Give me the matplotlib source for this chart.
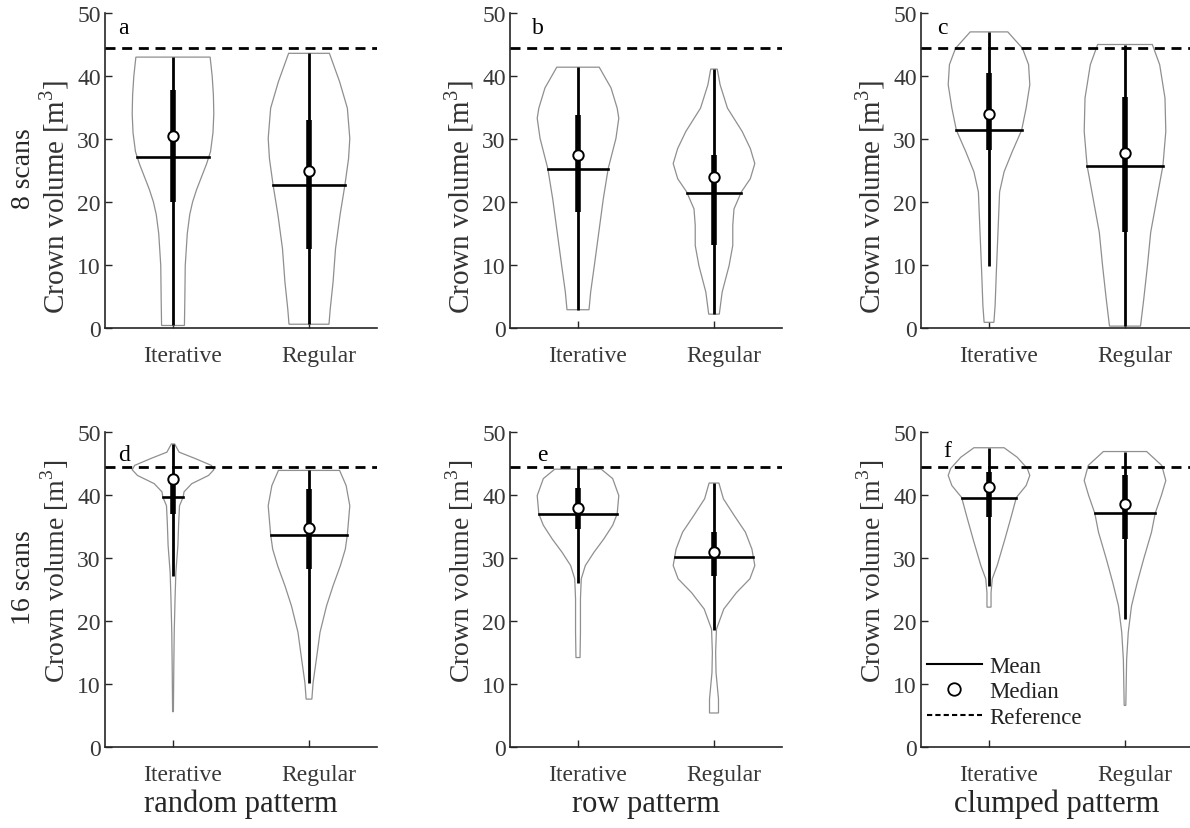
import numpy as np
import matplotlib
matplotlib.use("Agg")
import matplotlib.pyplot as plt
from matplotlib.lines import Line2D
from matplotlib.transforms import ScaledTranslation

plt.rcParams['font.family'] = ['Liberation Serif', 'DejaVu Serif']
plt.rcParams['mathtext.fontset'] = 'custom'
plt.rcParams['mathtext.rm'] = 'Liberation Serif'

# ---- data ----
methods = ['Iterative', 'Regular']
patterns = ['random patterm', 'row patterm', 'clumped patterm']
scans = ['8 scans', '16 scans']
letters = ['a', 'b', 'c', 'd', 'e', 'f']
reference_volume = 44.5

# violin profiles: (volume, relative half width)
a_iterative = [(0.4, .28), (4.6, .29), (9.9, .30), (15, .35), (18, .41), (20, .48), (22, .58),
               (24, .70), (26, .82), (28, .92), (31, .98), (34, 1.0), (37, .99), (40, .96), (43.0, .91)]
a_regular = [(0.6, .49), (3.0, .52), (7.3, .59), (12.6, .65), (17.9, .76), (22.7, .88), (26.9, .97),
             (30.1, 1.0), (34.9, .94), (39.1, .75), (43.6, .50)]
b_iterative = [(2.9, .27), (5.7, .31), (9.9, .40), (15.2, .51), (20.5, .62), (25.3, .74), (30.1, .93),
               (33.3, 1.0), (34.9, .96), (38.1, .81), (41.4, .52)]
b_regular = [(2.2, .13), (5.7, .20), (9.9, .37), (13.1, .46), (16.3, .46), (18.9, .49), (21.6, .67),
             (23.7, .89), (26.1, 1.0), (28.5, .89), (31.2, .69), (34.9, .33), (38.6, .15), (41.1, .08)]
c_iterative = [(0.9, .12), (3.6, .15), (8.9, .18), (15.2, .22), (21.6, .26), (24.8, .37), (28.0, .57),
               (31.4, .80), (34.9, .91), (38.6, 1.0), (41.8, .97), (44.4, .82), (47.0, .46)]
c_regular = [(0.3, .38), (4.6, .46), (9.9, .55), (15.2, .63), (20.5, .78), (25.8, .93), (31.2, 1.0),
             (36.5, .98), (41.8, .85), (45.0, .67)]
d_iterative = [(5.6, .01), (12.9, .02), (18.2, .03), (23.5, .05), (27.7, .07), (32.0, .12), (35.7, .14),
               (38.3, .16), (39.7, .25), (40.5, .27), (41.8, .46), (43.1, .87), (44.0, 1.0), (44.7, .94),
               (45.8, .54), (46.8, .15), (48.1, .04)]
d_regular = [(7.6, .07), (10.2, .10), (13.9, .18), (18.2, .27), (22.4, .43), (25.6, .59), (28.8, .77),
             (31.4, .89), (33.7, .94), (38.3, 1.0), (41.5, .91), (43.9, .75)]
e_iterative = [(14.2, .05), (18.2, .06), (23.5, .06), (26.7, .08), (28.8, .18), (30.9, .39), (33.0, .63),
               (35.2, .85), (37.0, .96), (39.9, 1.0), (42.6, .85), (44.1, .57)]
e_regular = [(5.4, .11), (7.6, .11), (9.7, .08), (11.8, .05), (15.0, .04), (18.7, .06), (21.9, .24),
             (24.5, .55), (26.7, .88), (28.8, 1.0), (31.4, .93), (34.1, .77), (36.7, .50), (39.4, .23),
             (41.9, .12)]
f_iterative = [(22.2, .05), (24.5, .05), (26.7, .08), (28.8, .20), (33.0, .39), (36.7, .55), (39.6, .67),
               (41.5, .91), (43.1, 1.0), (44.2, .94), (46.0, .69), (47.5, .37)]
f_regular = [(6.6, .02), (13.9, .04), (18.2, .08), (22.4, .16), (26.1, .30), (29.9, .46), (34.1, .65),
             (37.1, .74), (39.9, .89), (42.3, 1.0), (44.7, .90), (46.9, .53)]

profiles = [[a_iterative, a_regular], [b_iterative, b_regular], [c_iterative, c_regular],
            [d_iterative, d_regular], [e_iterative, e_regular], [f_iterative, f_regular]]

# summary statistics per panel, [Iterative, Regular]
whisker_low = [[0.4, 0.6], [2.9, 2.2], [9.9, 0.3], [27.2, 10.2], [26.1, 18.5], [25.6, 20.3]]
whisker_high = [[43.0, 43.6], [41.4, 41.1], [47.0, 45.0], [48.1, 43.9], [44.3, 41.9], [47.5, 46.9]]
q1 = [[20.0, 12.6], [18.4, 13.1], [28.2, 15.2], [37.0, 28.3], [34.6, 27.2], [36.5, 33.0]]
q3 = [[37.8, 33.0], [33.8, 27.4], [40.4, 36.6], [42.0, 41.0], [41.1, 34.1], [43.6, 43.1]]
medians = [[30.4, 24.9], [27.5, 23.9], [34.0, 27.7], [42.6, 34.8], [37.9, 31.0], [41.3, 38.6]]
means = [[27.2, 22.7], [25.3, 21.5], [31.4, 25.7], [39.7, 33.7], [37.0, 30.1], [39.6, 37.1]]

# ---- layout ----
W, H = 1190, 829
fig = plt.figure(figsize=(W / 100, H / 100), dpi=100)
col_left = [105, 510, 921]
row_bottom = [329, 748]
ax_w, ax_h = 272, 315
letter_pos = [(0.05, 0.955), (0.08, 0.955), (0.06, 0.955), (0.05, 0.93), (0.10, 0.93), (0.08, 0.94)]

txt = '#262626'
half_max = 0.3

for i in range(6):
    r, c = divmod(i, 3)
    ax = fig.add_axes([col_left[c] / W, 1 - row_bottom[r] / H, ax_w / W, ax_h / H])
    for j in range(2):
        pos = j + 1
        prof = np.array(profiles[i][j])
        yy = prof[:, 0]
        ww = prof[:, 1] * half_max
        ax.fill(np.concatenate([pos - ww, (pos + ww)[::-1]]), np.concatenate([yy, yy[::-1]]),
                facecolor='white', edgecolor='#8f8f8f', lw=0.9, zorder=2)
        ax.plot([pos, pos], [whisker_low[i][j], whisker_high[i][j]], color='black', lw=2.0,
                solid_capstyle='butt', zorder=3)
        ax.plot([pos, pos], [q1[i][j], q3[i][j]], color='black', lw=4.0, solid_capstyle='butt', zorder=3)
        mw = np.interp(means[i][j], yy, ww)
        ax.plot([pos - mw, pos + mw], [means[i][j], means[i][j]], color='black', lw=1.9, zorder=4)
        ax.plot(pos, medians[i][j], 'o', ms=7.5, mfc='white', mec='black', mew=1.4, zorder=5)
    ax.axhline(reference_volume, color='black', lw=2.0, ls=(0, (3.6, 2.4)), zorder=6)

    ax.set_xlim(0.5, 2.5)
    ax.set_ylim(0, 50)
    ax.set_xticks([1, 2])
    ax.set_xticklabels(methods)
    ax.set_yticks(range(0, 51, 10))
    for s in ['top', 'right']:
        ax.spines[s].set_visible(False)
    for s in ['left', 'bottom']:
        ax.spines[s].set_color('#262626')
        ax.spines[s].set_linewidth(1.2)
    ax.tick_params(direction='in', length=5, width=1.0, colors='#262626', labelsize=17,
                   labelcolor='#383838')
    ax.tick_params(axis='y', pad=3)
    ax.tick_params(axis='x', pad=12)
    for lbl in ax.get_xticklabels():
        lbl.set_transform(lbl.get_transform() + ScaledTranslation(0.1, 0, fig.dpi_scale_trans))

    ax.set_ylabel('Crown volume [m$^3$]', fontsize=21 if r == 0 else 20, color='#333333')
    ax.yaxis.set_label_coords(-0.125, 0.42 if r == 0 else 0.56)
    ax.text(letter_pos[i][0], letter_pos[i][1], letters[i], transform=ax.transAxes,
            fontsize=17, color='black', va='center', ha='left')

    if c == 0:
        ax.text(-0.30, 0.51 if r == 0 else 0.54, scans[r], transform=ax.transAxes, rotation=90,
                fontsize=20, color=txt, va='center', ha='center')
    if r == 1:
        ax.text(0.5, -0.18, patterns[c], transform=ax.transAxes, fontsize=22, color=txt,
                va='center', ha='center')

    if i == 5:
        handles = [Line2D([], [], color='black', lw=1.5),
                   Line2D([], [], ls='', marker='o', ms=9, mfc='white', mec='black', mew=1.3),
                   Line2D([], [], color='black', lw=1.5, ls=(0, (2.5, 1.5)))]
        ax.legend(handles, ['Mean', 'Median', 'Reference'], loc='upper left',
                  bbox_to_anchor=(0.022, 0.29), frameon=False, fontsize=16.5, handlelength=2.4,
                  handletextpad=0.3, labelspacing=0.2, borderpad=0, borderaxespad=0,
                  labelcolor='#222222')

fig.savefig('out.png', dpi=100)
